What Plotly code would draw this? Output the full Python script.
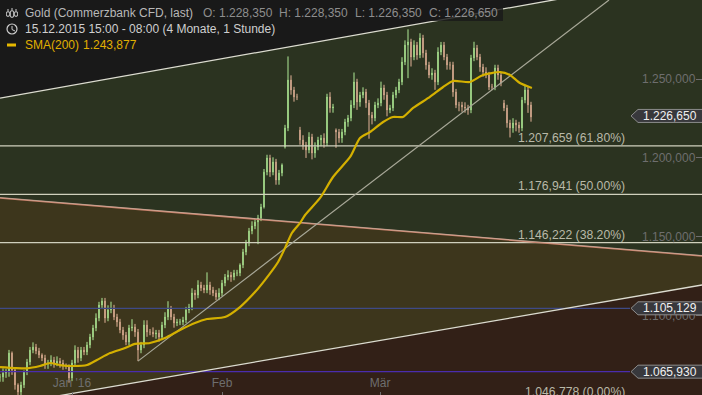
import plotly.graph_objects as go

W, H = 702, 395
# hourly candles, sampled; prices in USD
close = [1061.0,1063.5,1064.2,1076.2,1065.4,1056.0,1051.5,1056.0,1064.2,1070.5,
1078.1,1080.0,1077.5,1075.0,1073.1,1069.2,1069.9,1071.8,1069.9,1071.1,
1069.9,1068.6,1068.0,1060.4,1069.9,1078.1,1073.1,1078.1,1076.9,1081.3,
1086.4,1092.1,1098.4,1106.7,1109.2,1098.4,1103.5,1104.8,1099.1,1095.9,
1090.8,1087.6,1083.2,1092.1,1092.7,1089.5,1078.1,1081.3,1094.0,1089.5,
1089.5,1088.3,1088.9,1086.4,1094.0,1099.1,1104.1,1099.1,1095.3,1095.9,
1095.9,1097.2,1103.5,1105.4,1114.3,1113.0,1119.4,1117.5,1116.2,1119.4,
1116.2,1114.3,1111.8,1114.3,1120.6,1124.4,1125.7,1124.4,1127.0,1127.0,
1132.1,1140.3,1146.0,1153.6,1156.8,1159.3,1161.9,1168.9,1191.0,1200.0,
1191.0,1197.4,1186.0,1190.4,1195.5,1219.0,1249.4,1243.1,1238.7,1238.7,
1211.4,1208.2,1205.0,1213.3,1203.1,1206.9,1211.4,1212.6,1209.5,1238.7,
1231.7,1232.3,1216.4,1212.6,1216.4,1222.8,1225.3,1233.6,1248.2,1235.5,
1239.9,1241.8,1234.8,1227.2,1225.3,1233.6,1234.8,1244.4,1239.9,1230.4,
1231.7,1239.9,1243.1,1248.2,1260.9,1271.6,1273.6,1264.0,1271.6,1265.3,
1276.1,1266.6,1259.0,1252.6,1253.9,1248.2,1267.2,1271.6,1264.0,1259.0,
1259.0,1241.8,1233.6,1233.6,1232.3,1231.7,1230.4,1263.4,1269.7,1264.0,
1257.7,1254.5,1252.6,1245.0,1245.0,1257.1,1252.6,1247.5,1231.7,1222.2,
1219.0,1222.2,1220.9,1219.0,1236.7,1243.1,1233.6,1226.0]
wick_up = [2,3,2,2,1,1,1,2,1,2,
2,3,2,2,1,2,2,3,2,3,
2,2,1,1,2,3,2,2,2,2,
2,2,3,2,2,2,3,4,2,2,
2,2,2,2,5,2,2,2,3,3,
2,3,2,2,2,3,5,2,2,2,
2,2,2,2,3,2,3,2,2,8,
2,2,2,3,2,2,3,2,2,2,
1,2,2,2,3,2,2,2,2,2,
2,3,2,2,1,2,15,3,2,2,
2,3,2,3,2,3,2,2,3,2,
3,2,1,2,2,2,2,3,6,2,
2,3,2,2,2,2,3,4,2,2,
2,2,2,2,3,3,8,2,3,2,
3,2,2,2,3,2,3,2,2,2,
2,2,2,2,2,3,2,2,4,2,
2,2,3,2,2,2,2,2,2,2,
2,3,2,2,2,3,2,2]
wick_dn = [3,3,3,3,3,3,3,2,2,2,
2,2,2,2,2,3,3,2,3,2,
3,3,2,3,2,2,3,2,2,2,
2,2,2,2,2,3,2,2,2,3,
2,3,2,2,2,3,7,2,2,3,
2,2,3,3,2,2,2,2,3,2,
2,2,2,2,2,3,2,2,2,2,
3,2,2,2,2,2,2,3,2,2,
2,2,2,2,2,2,14,2,1,2,
3,2,3,3,2,1,2,3,3,2,
3,3,5,2,4,3,2,4,3,2,
3,3,10,3,3,2,3,2,2,5,
3,2,3,15,4,2,2,2,3,4,
2,2,2,2,2,2,21,6,2,3,
2,3,3,2,3,5,2,2,2,3,
3,3,2,4,3,3,3,2,2,2,
3,3,2,2,2,2,3,2,2,3,
6,3,4,3,2,2,5,3]
gap_open = {95: 1207.0, 100: 1217.7, 112: 1217.7, 168: 1234.8}

sma_bar = [0,5,9,13.3,16.7,20,24,29,32.3,36.7,41.7,45,50,55,60,65,69,75,80,85,88.3,92.7,95,97.3,100,101.7,
           106.7,111,116.7,120,123.3,127.7,131,134.3,137.7,143.3,147.7,151,156.7,161,166.7,170,173.3,177.3]
sma = [1067.3,1066.7,1066.5,1068.0,1069.9,1068.6,1068.0,1068.6,1071.8,1076.2,1079.4,1082.0,1082.6,1085.7,
       1090.8,1095.3,1097.8,1099.1,1105.4,1114.9,1122.5,1134.0,1142.8,1152.4,1158.7,1163.8,1174.6,1187.9,
       1200.6,1212.6,1216.4,1222.8,1226.0,1226.0,1231.7,1238.7,1245.0,1248.8,1248.2,1252.6,1254.5,1252.6,
       1247.5,1244.4]

fib_levels = [1207.659, 1176.941, 1146.222]
fib_labels = ["1.207,659 (61.80%)", "1.176,941 (50.00%)", "1.146,222 (38.20%)"]
ytick_vals = [1250, 1200, 1150, 1100]
ytick_text = ["1.250,000", "1.200,000", "1.150,000", "1.100,000"]
xtick_vals = [24, 74, 126.7]
xtick_text = ["Jan '16", "Feb", "Mär"]
bar_end = 234
top_channel = [1238.0, 1316.9]
mid_channel = [1174.6, 1137.8]
low_channel = [1042.7, 1119.4]
support_bars = [46, 203]
support_vals = [1071.1, 1300.2]
blue_end = 210
blue_levels = [1104.6, 1064.4]
blue_colors = ["#3f4a86", "#4a2cae"]
badge_y = [1226.65, 1104.6, 1064.4]
badge_text = ["1.226,650", "1.105,129", "1.065,930"]

YR = [1049.6, 1300.2]
FONT = "Liberation Sans"

bars = list(range(len(close)))
opens = [close[0]] + close[:-1]
for b, v in gap_open.items():
    opens[b] = v
high = [max(o, c) + w for o, c, w in zip(opens, close, wick_up)]
low = [min(o, c) - w for o, c, w in zip(opens, close, wick_dn)]

fig = go.Figure()

def band(vals, color):
    fig.add_shape(type="path", layer="below", line_width=0, fillcolor=color,
                  path=f"M 0 {vals[0]} L {bar_end} {vals[1]} L {bar_end} 900 L 0 900 Z")

band(top_channel, "#2b3320")
band(mid_channel, "#3d361c")
band(low_channel, "#322017")

fig.add_trace(go.Candlestick(x=bars, open=opens, high=high, low=low, close=close,
    whiskerwidth=0,
    increasing=dict(line=dict(color="#b0ec96", width=1), fillcolor="#b0ec96"),
    decreasing=dict(line=dict(color="#e4b498", width=1), fillcolor="#e4b498"),
    hoverinfo="skip", showlegend=False))

def line(x, y, color, width):
    fig.add_trace(go.Scatter(x=x, y=y, mode="lines", line=dict(color=color, width=width),
                             hoverinfo="skip", showlegend=False))

for lv, c in zip(blue_levels, blue_colors):
    line([0, blue_end], [lv, lv], c, 1.2)
for lv in fib_levels:
    line([0, bar_end], [lv, lv], "#d0d0bc", 1.2)
line([0, bar_end], top_channel, "#dcdcd0", 1.3)
line([0, bar_end], low_channel, "#dcdcd0", 1.3)
line([0, bar_end], mid_channel, "#c8806a", 1.5)
line([0, bar_end], [v + 0.3 for v in mid_channel], "#d8cfc0", 0.5)
line(support_bars, support_vals, "#a8a898", 1.2)
fig.add_trace(go.Scatter(x=sma_bar, y=sma, mode="lines",
                         line=dict(color="#d4b000", width=2.2, shape="spline", smoothing=0.6),
                         hoverinfo="skip", showlegend=False))

def px(x): return x / W
def py(y): return 1 - y / H

ann = []
def label(xp, yp, text, color, size=12, anchor="left"):
    ann.append(dict(xref="paper", yref="paper", x=px(xp), y=py(yp), text=text, showarrow=False,
                    xanchor=anchor, yanchor="middle", xshift=-1 if anchor == "left" else 1,
                    font=dict(family=FONT, size=size, color=color)))

# header strips
for x1, y0, y1 in [(503, 5, 21), (282, 21, 37), (143, 37, 53)]:
    fig.add_shape(type="rect", xref="paper", yref="paper", x0=0, x1=px(x1), y0=py(y1), y1=py(y0),
                  line_width=0, fillcolor="rgba(26,26,26,0.82)", layer="above")
label(24, 13, "Gold (Commerzbank CFD, last)", "#b8b8b8", 12)
label(202, 13, "O: 1.228,350", "#8e8e8e", 12)
label(278, 13, "H: 1.228,350", "#8e8e8e", 12)
label(354, 13, "L: 1.226,350", "#8e8e8e", 12)
label(428, 13, "C: 1.226,650", "#8e8e8e", 12)
label(24, 29, "15.12.2015 15:00 - 08:00 (4 Monate, 1 Stunde)", "#cfcfcf", 12)
label(24, 45, "SMA(200)", "#e0b000", 12)
label(82, 45, "1.243,877", "#e0b000", 12)

# header icons
def pshape(**k):
    fig.add_shape(xref="paper", yref="paper", layer="above", **k)
pshape(type="circle", x0=px(7), x1=px(17), y0=py(34), y1=py(24), line=dict(color="#cfcfcf", width=1.2))
pshape(type="line", x0=px(12), x1=px(12), y0=py(26), y1=py(29.5), line=dict(color="#cfcfcf", width=1))
pshape(type="line", x0=px(12), x1=px(15), y0=py(29.5), y1=py(31), line=dict(color="#cfcfcf", width=1))
pshape(type="rect", x0=px(7), x1=px(16), y0=py(46.5), y1=py(43.5), line_width=0, fillcolor="#e6b800")
for xc, t, b in [(8, 9, 17), (12, 8, 18), (16, 9, 17)]:
    pshape(type="line", x0=px(xc), x1=px(xc), y0=py(b), y1=py(t), line=dict(color="#cfcfcf", width=1))
    pshape(type="rect", x0=px(xc - 1.5), x1=px(xc + 1.5), y0=py(b - 1), y1=py(t + 3),
           line=dict(color="#cfcfcf", width=0.8), fillcolor="#191919")

for lv, t in zip(fib_levels, fib_labels):
    ann.append(dict(x=626 / 3, y=lv, xref="x", yref="y", text=t, showarrow=False, xanchor="right",
                    yanchor="bottom", yshift=-1, xshift=1, font=dict(family=FONT, size=12.2, color="#b9b9a8")))
label(626, 391.5, "1.046,778 (0.00%)", "#b9b9a8", 12.2, anchor="right")

# price badges
for v, t in zip(badge_y, badge_text):
    fig.add_shape(type="path", layer="above", xref="paper", yref="y", xsizemode="pixel",
                  ysizemode="pixel", xanchor=0, yanchor=v,
                  path="M 631 0 L 638 6.5 L 703 6.5 L 703 -6.5 L 638 -6.5 Z",
                  fillcolor="#38383c", line=dict(color="#8c8c8c", width=1))
    ann.append(dict(x=bar_end, y=v, xref="x", yref="y", text=t, showarrow=False, xanchor="right",
                    xshift=-3, font=dict(family=FONT, size=12, color="#f0f0f0")))

fig.update_layout(
    width=W, height=H, margin=dict(l=0, r=0, t=0, b=0), autosize=False,
    plot_bgcolor="#191919", paper_bgcolor="#191919", annotations=ann, showlegend=False,
    boxgap=0.85,
    xaxis=dict(range=[0, bar_end], showgrid=False, zeroline=False, rangeslider=dict(visible=False),
               tickvals=xtick_vals, ticktext=xtick_text, ticks="inside", ticklen=3, tickcolor="#6e6e6e",
               ticklabelposition="inside", ticklabelstandoff=2,
               tickfont=dict(family=FONT, size=12, color="#6e6e6e"), fixedrange=True),
    yaxis=dict(range=YR, side="right", showgrid=False, zeroline=False, tickvals=ytick_vals,
               ticktext=ytick_text, ticks="inside", ticklen=6, tickcolor="#6e6e6e",
               ticklabelposition="inside", tickfont=dict(family=FONT, size=12, color="#6e6e6e"),
               fixedrange=True),
)
fig.write_html("out.html", config=dict(displayModeBar=False),
               post_script="document.body.style.margin='0';document.body.style.overflow='hidden';")
